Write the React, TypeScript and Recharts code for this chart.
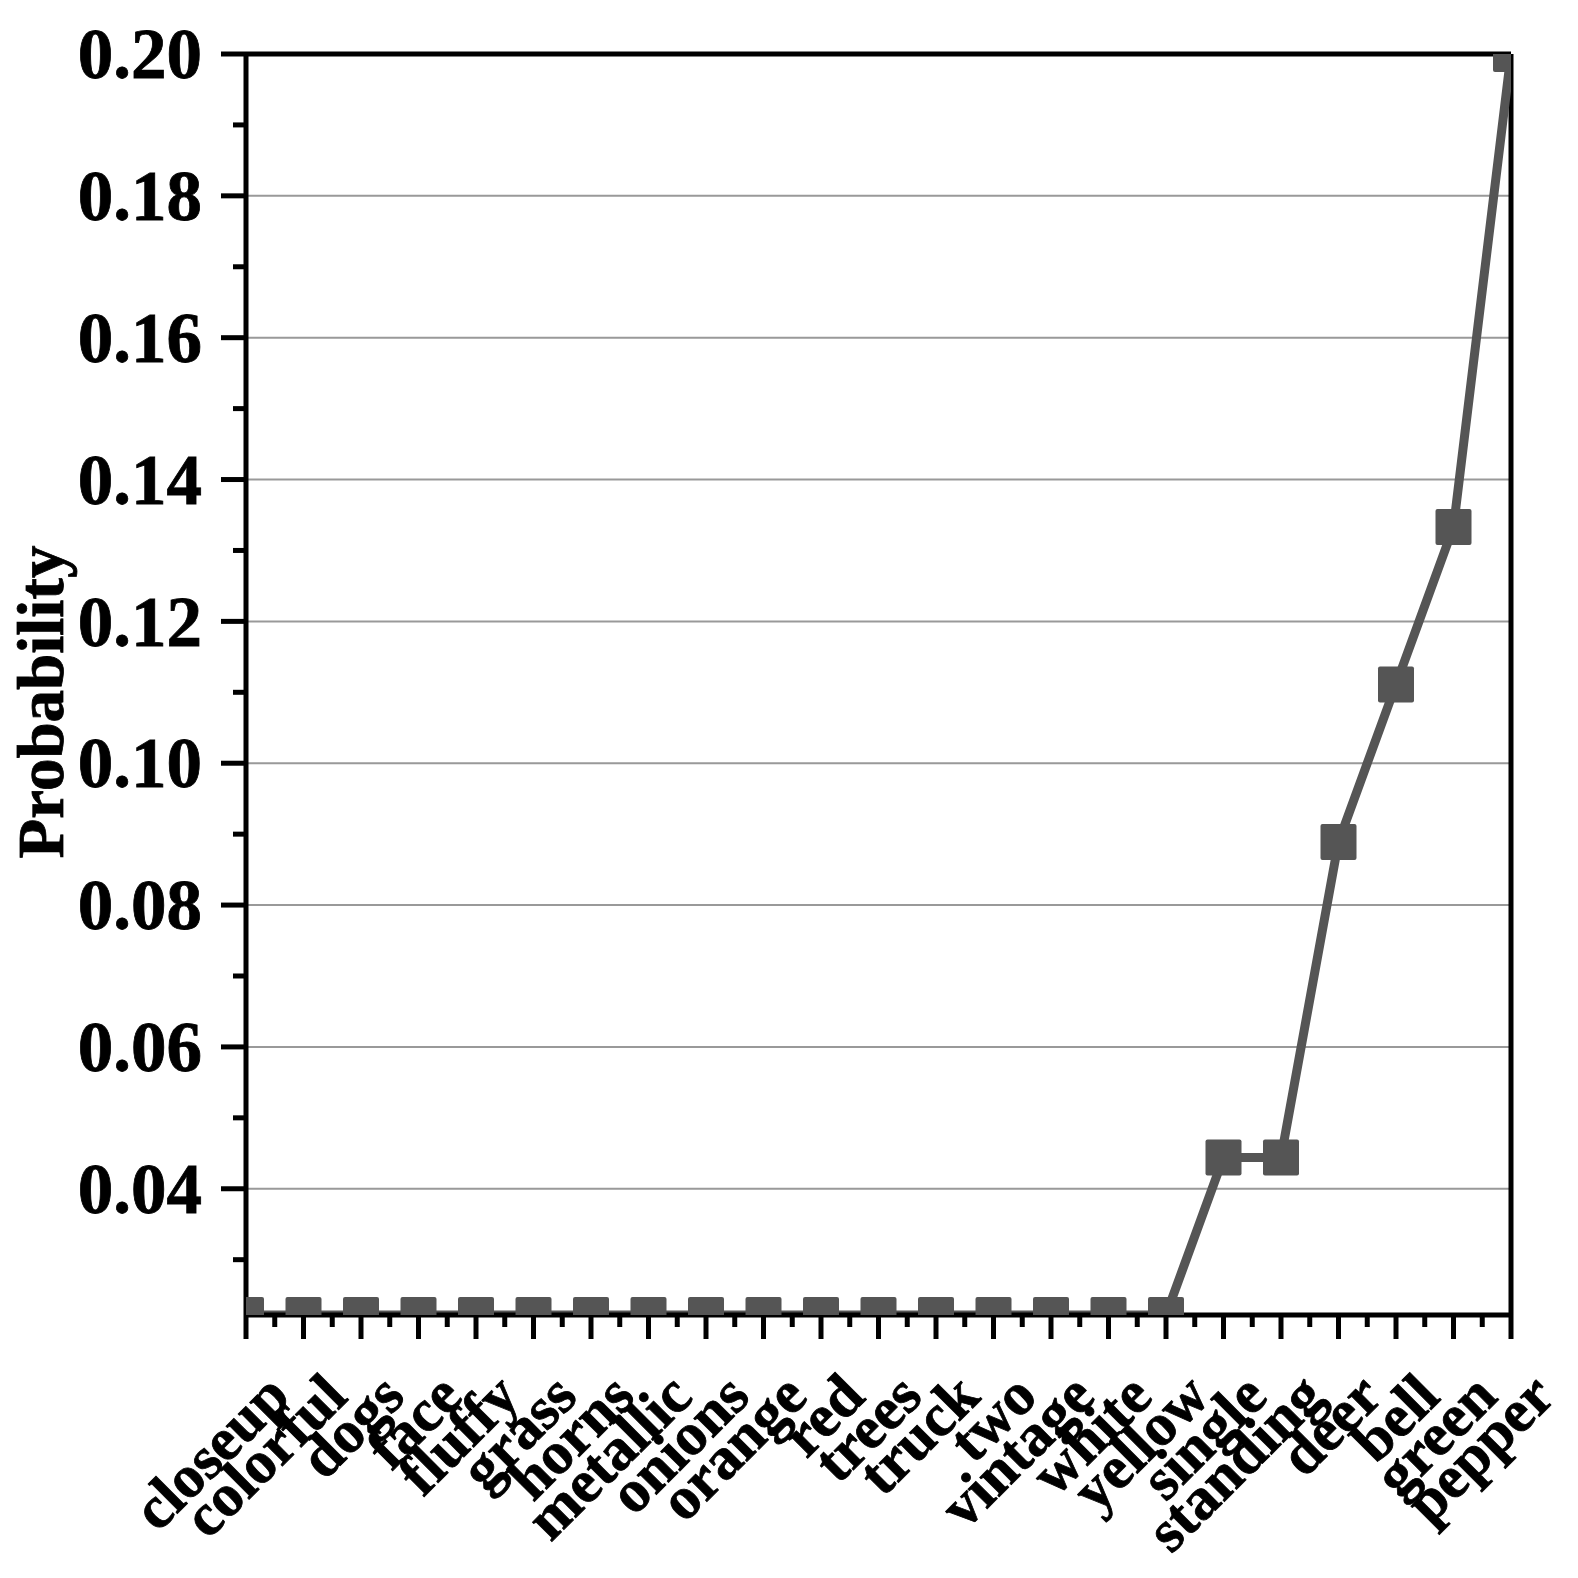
import React from 'react';
import { LineChart, Line, XAxis, YAxis, ReferenceLine } from 'recharts';

// Probability per word, sorted ascending (last point hits the top of the frame).

const CATEGORIES = [
  'closeup', 'colorful', 'dogs', 'face', 'fluffy', 'grass', 'horns', 'metallic',
  'onions', 'orange', 'red', 'trees', 'truck', 'two', 'vintage', 'white', 'yellow',
  'single', 'standing', 'deer', 'bell', 'green', 'pepper',
];

const PROBABILITY = [
  0.0222, 0.0222, 0.0222, 0.0222, 0.0222, 0.0222, 0.0222, 0.0222,
  0.0222, 0.0222, 0.0222, 0.0222, 0.0222, 0.0222, 0.0222, 0.0222, 0.0222,
  0.0444, 0.0444, 0.0889, 0.1111, 0.1333, 0.2,
];

const Y_MAJOR = [0.04, 0.06, 0.08, 0.1, 0.12, 0.14, 0.16, 0.18, 0.2];
const Y_MINOR = [0.03, 0.05, 0.07, 0.09, 0.11, 0.13, 0.15, 0.17, 0.19];
const Y_GRID = [0.04, 0.06, 0.08, 0.1, 0.12, 0.14, 0.16, 0.18];
const Y_DOMAIN = [0.0222, 0.2];

const FONT = '"Liberation Serif", "Times New Roman", serif';
const INK = '#000';
const SERIES = '#555555';

const data = CATEGORIES.map((name, i) => ({ idx: i, name, p: PROBABILITY[i] }));
const xMajor = CATEGORIES.map((_, i) => i);
const xTicks = [...xMajor, ...xMajor.slice(1).map((i) => i - 0.5)].sort((a, b) => a - b);
const yTicks = [...Y_MAJOR, ...Y_MINOR].sort((a, b) => a - b);

const textStyle = {
  fontFamily: FONT,
  fontWeight: 'bold' as const,
  fill: INK,
  stroke: INK,
  strokeWidth: 0.8,
};

function XTick(props: any) {
  const { x, y, payload } = props;
  const v = payload.value as number;
  const major = Number.isInteger(v);
  const bx = x + 46;
  const by = y + 84;
  return (
    <g>
      <line x1={x} x2={x} y1={y} y2={y + (major ? 24 : 12)} stroke={INK} strokeWidth={5} />
      {major && (
        <text
          x={bx}
          y={by}
          transform={`rotate(-45 ${bx} ${by})`}
          textAnchor="end"
          fontSize={60}
          {...textStyle}
        >
          {CATEGORIES[v]}
        </text>
      )}
    </g>
  );
}

function YTick(props: any) {
  const { x, y, payload } = props;
  const v = payload.value as number;
  const major = Y_MAJOR.includes(v);
  return (
    <g>
      <line x1={x - (major ? 25 : 13)} x2={x} y1={y} y2={y} stroke={INK} strokeWidth={5} />
      {major && (
        <text x={x - 44} y={y} dy="0.34em" textAnchor="end" fontSize={71} {...textStyle}>
          {v.toFixed(2)}
        </text>
      )}
    </g>
  );
}

function SquareDot(props: any) {
  const { cx, cy, index } = props;
  return <rect key={`dot-${index}`} x={cx - 18} y={cy - 18} width={36} height={36} rx={2} fill={SERIES} />;
}

export default function App() {
  return (
    <div style={{ position: 'absolute', left: 0, top: 0, background: '#fff' }}>
      <LineChart width={1578} height={1578} data={data} margin={{ top: 54, right: 67, bottom: 0, left: 0 }}>
        <XAxis
          dataKey="idx"
          type="number"
          domain={[0, CATEGORIES.length - 1]}
          ticks={xTicks}
          interval={0}
          allowDataOverflow
          height={263}
          tickSize={0}
          tickMargin={0}
          tickLine={false}
          tick={<XTick />}
          axisLine={{ stroke: INK, strokeWidth: 5 }}
        />
        <YAxis
          type="number"
          domain={Y_DOMAIN}
          ticks={yTicks}
          interval={0}
          allowDataOverflow
          width={246}
          tickSize={0}
          tickMargin={0}
          tickLine={false}
          tick={<YTick />}
          axisLine={{ stroke: INK, strokeWidth: 5 }}
          label={{
            content: () => (
              <text
                x={63}
                y={702}
                transform="rotate(-90 63 702)"
                textAnchor="middle"
                fontSize={65}
                {...textStyle}
              >
                Probability
              </text>
            ),
          }}
        />
        {Y_GRID.map((v) => (
          <ReferenceLine key={v} y={v} stroke="#999" strokeWidth={2} />
        ))}
        <ReferenceLine y={0.2} stroke={INK} strokeWidth={5} />
        <ReferenceLine x={CATEGORIES.length - 1} stroke={INK} strokeWidth={5} />
        <Line
          dataKey="p"
          type="linear"
          stroke={SERIES}
          strokeWidth={9}
          dot={<SquareDot />}
          activeDot={false}
          isAnimationActive={false}
        />
      </LineChart>
    </div>
  );
}
